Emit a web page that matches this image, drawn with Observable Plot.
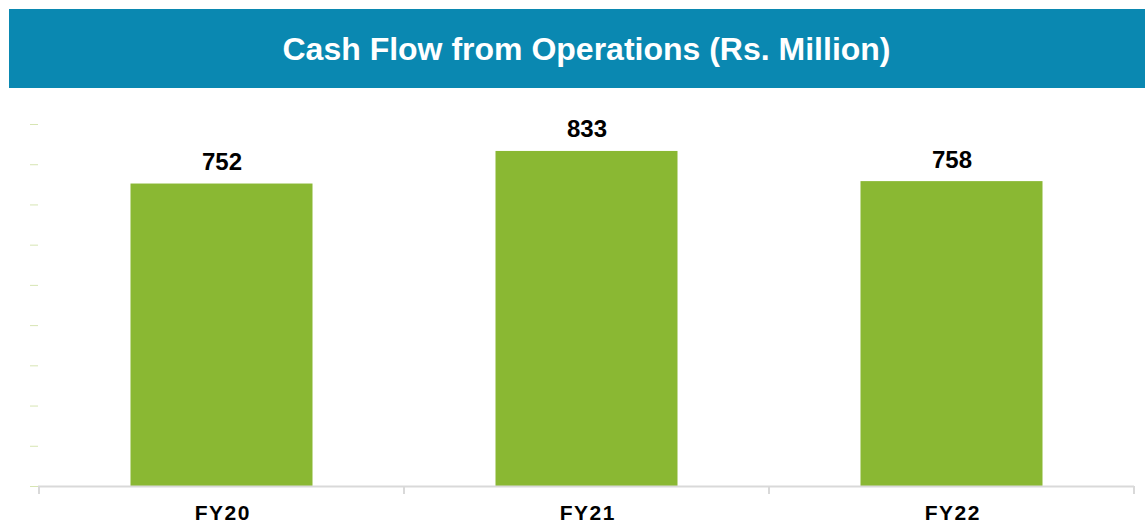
<!DOCTYPE html>
<html>
<head>
<meta charset="utf-8">
<script src="https://cdn.jsdelivr.net/npm/d3@7"></script>
<script src="https://cdn.jsdelivr.net/npm/@observablehq/plot@0.6"></script>
<style>
  html, body { margin: 0; padding: 0; background: #fff; }
  body { width: 1145px; height: 525px; overflow: hidden; font-family: "Liberation Sans", Arial, sans-serif; }
  #banner { position: absolute; left: 9px; top: 9px; width: 1136px; height: 79px; background: #0A88B1;
    color: #fff; font-weight: bold; font-size: 32px; display: flex; align-items: center; justify-content: center;
    padding-top: 2px; padding-left: 19px; box-sizing: border-box; }
  #chart { position: absolute; left: 0; top: 88px; }
  .xlab text { letter-spacing: 1.5px; }
</style>
</head>
<body>
<div id="banner">Cash Flow from Operations (Rs. Million)</div>
<div id="chart"></div>
<script>
const categories = ["FY20", "FY21", "FY22"];
const values = [752, 833, 758];
const yTicks = [0, 100, 200, 300, 400, 500, 600, 700, 800, 900];

const data = categories.map((c, i) => ({category: c, value: values[i]}));

const width = 1145, height = 437;
const marginLeft = 38, marginRight = 11, marginTop = 36, marginBottom = 39;

const chart = Plot.plot({
  width, height, marginLeft, marginRight, marginTop, marginBottom,
  style: {fontFamily: "'Liberation Sans', Arial, sans-serif", background: "#fff"},
  x: {domain: categories, padding: 0},
  y: {domain: [0, 900]},
  marks: [
    Plot.axisY({ticks: yTicks, tickSize: 8, tickFormat: () => "", stroke: "#d7e5b3", label: null}),
    Plot.barY(data, {x: "category", y: "value", fill: "#8AB833", insetLeft: 91.5, insetRight: 91.5}),
    Plot.ruleY([0], {stroke: "#d9d9d9", strokeWidth: 2}),
    Plot.text(data, {x: "category", y: "value", text: d => String(d.value), lineAnchor: "bottom", dy: -14,
      fontSize: 24, fontWeight: "bold", fill: "#000"}),
    Plot.axisX({tickSize: 0, tickPadding: 19, fontSize: 21, fontWeight: "bold", fill: "#000", label: null,
      className: "xlab", dx: 0.75})
  ]
});
document.getElementById("chart").appendChild(chart);

// boundary tick marks under the baseline, at band edges
const svg = d3.select(chart);
const xs = chart.scale("x");
const ys = chart.scale("y");
const edges = categories.map(c => xs.apply(c)).concat([xs.apply(categories[categories.length - 1]) + xs.bandwidth]);
svg.append("g").selectAll("line").data(edges).join("line")
  .attr("x1", d => d).attr("x2", d => d)
  .attr("y1", ys.apply(0)).attr("y2", ys.apply(0) + 8)
  .attr("stroke", "#d9d9d9").attr("stroke-width", 2);
</script>
</body>
</html>
